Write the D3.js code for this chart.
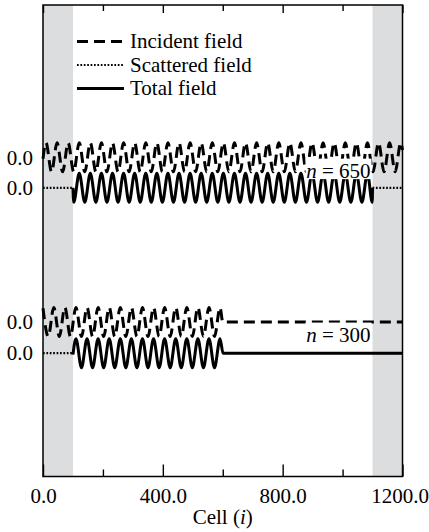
<!DOCTYPE html>
<html><head><meta charset="utf-8">
<script src="https://cdn.jsdelivr.net/npm/d3@7"></script>
<style>
body{margin:0;background:#fff}
svg{display:block}
</style>
</head><body>
<svg id="c" width="429" height="532" font-family="'Liberation Serif', 'DejaVu Serif', 'Times New Roman', serif"></svg>
<script>
// ---- data ----
const xTicksMajor = [0, 400, 800, 1200];
const xTicksMinor = [200, 600, 1000];
const sfRegions = [[0, 100], [1100, 1200]];   // scattered-field (shaded) regions, cells
const yLabelText = "0.0";
// baseline offsets of each trace (field units)
const offsetInc650 = 13.5, offsetTot650 = 11.4, offsetInc300 = 2.15, offsetTot300 = 0;

// extrema [cell, field]
const incident650 = [[0,-0.1],[10,1],[28.5,-1],[47,1],[65.5,-1],[84,1],[102.5,-1],[121,1],[139.5,-1],[158,1],[176.5,-1],[195,1],[213.5,-1],[232,1],[250.5,-1],[269,1],[287.5,-1],[306,1],[324.5,-1],[343,1],[361.5,-1],[380,1],[398.5,-1],[417,1],[435.5,-1],[454,1],[472.5,-1],[491,1],[509.5,-1],[528,1],[546.5,-1],[565,1],[583.5,-1],[602,1],[620.5,-1],[639,1],[657.5,-1],[676,1],[694.5,-1],[713,1],[731.5,-1],[750,1],[768.5,-1],[787,1],[805.5,-1],[824,1],[842.5,-1],[861,1],[879.5,-1],[898,1],[916.5,-1],[935,1],[953.5,-1],[972,1],[990.5,-1],[1009,1],[1027.5,-1],[1046,1],[1064.5,-1],[1083,1],[1101.5,-1],[1120,1],[1138.5,-1],[1157,1],[1175.5,-1],[1194,1],[1200,0.5]];
const scattered650 = [[[0,0],[100,0]], [[1100,0],[1200,0]]];
const total650 = [[100,0],[102.5,-1],[121,1],[139.5,-1],[158,1],[176.5,-1],[195,1],[213.5,-1],[232,1],[250.5,-1],[269,1],[287.5,-1],[306,1],[324.5,-1],[343,1],[361.5,-1],[380,1],[398.5,-1],[417,1],[435.5,-1],[454,1],[472.5,-1],[491,1],[509.5,-1],[528,1],[546.5,-1],[565,1],[583.5,-1],[602,1],[620.5,-1],[639,1],[657.5,-1],[676,1],[694.5,-1],[713,1],[731.5,-1],[750,1],[768.5,-1],[787,1],[805.5,-1],[824,1],[842.5,-1],[861,1],[879.5,-1],[898,1],[916.5,-1],[935,1],[953.5,-1],[972,1],[990.5,-1],[1009,1],[1027.5,-1],[1046,1],[1064.5,-1],[1083,1],[1099,-1],[1100,0]];

const incident300 = [[0,0.95],[17.5,-1],[36,1],[54.5,-1],[73,1],[91.5,-1],[110,1],[128.5,-1],[147,1],[165.5,-1],[184,1],[202.5,-1],[221,1],[239.5,-1],[258,1],[276.5,-1],[295,1],[313.5,-1],[332,1],[350.5,-1],[369,1],[387.5,-1],[406,1],[424.5,-1],[443,1],[461.5,-1],[480,1],[498.5,-1],[517,1],[535.5,-1],[554,1],[572.5,-1],[591,1],[600,0],[1200,0]];
const scattered300 = [[[0,0],[100,0]], [[1100,0],[1200,0]]];
const total300 = [[100,-0.1],[110,1],[128.5,-1],[147,1],[165.5,-1],[184,1],[202.5,-1],[221,1],[239.5,-1],[258,1],[276.5,-1],[295,1],[313.5,-1],[332,1],[350.5,-1],[369,1],[387.5,-1],[406,1],[424.5,-1],[443,1],[461.5,-1],[480,1],[498.5,-1],[517,1],[535.5,-1],[554,1],[572.5,-1],[591,1],[601,0],[1200,0]];

const legendItems = ["Incident field", "Scattered field", "Total field"];
const stepLabels = ["650", "300"];

// ---- drawing ----
const FONT = "'Liberation Serif', 'DejaVu Serif', 'Times New Roman', serif";
const svg = d3.select("#c");
const L = 43, R = 402.5, T = 5, B = 476.5;
const x = d3.scaleLinear().domain([0, 1200]).range([L, R]);
const y = d3.scaleLinear().domain([-8.5, 24]).range([B, T]);

const GRAY = "#dcdddf";
const SW = 3;
const DASH = "11,6";
const DOT = "1.7,1.7";

svg.append("rect").attr("width", 429).attr("height", 532).attr("fill", "#fff");

// shaded SF regions
svg.append("g").selectAll("rect").data(sfRegions).join("rect")
  .attr("x", d => x(d[0])).attr("y", T)
  .attr("width", d => x(d[1]) - x(d[0])).attr("height", B - T)
  .attr("fill", GRAY);

function lineFor(off) {
  return d3.line().x(d => x(d[0])).y(d => y(d[1] + off)).curve(d3.curveMonotoneX);
}
const g = svg.append("g").attr("fill", "none").attr("stroke", "#000");

function draw(data, off, style) {
  const p = g.append("path").attr("d", lineFor(off)(data))
    .attr("stroke-width", style === "dot" ? 2.2 : SW)
    .attr("stroke-linejoin", "round");
  if (style === "dash") p.attr("stroke-dasharray", DASH);
  if (style === "dot") p.attr("stroke-dasharray", DOT);
}
scattered650.forEach(s => draw(s, offsetTot650, "dot"));
scattered300.forEach(s => draw(s, offsetTot300, "dot"));
draw(incident650, offsetInc650, "dash");
draw(total650, offsetTot650, "solid");
draw(incident300, offsetInc300, "dash");
draw(total300, offsetTot300, "solid");

// n = labels with white background
const labelPos = [offsetTot650 + 0.7, offsetInc300 - 1.35];
stepLabels.forEach((s, i) => {
  const by = y(labelPos[i]);
  svg.append("rect").attr("x", x(1100) - 67).attr("y", by - 19)
    .attr("width", 66).attr("height", 20.5).attr("fill", "#fff");
  const t = svg.append("text").attr("x", x(1100) - 2).attr("y", by)
    .attr("text-anchor", "end").attr("font-size", 21).attr("font-family", FONT);
  t.append("tspan").attr("font-style", "italic").text("n");
  t.append("tspan").text(" = " + s);
});

// legend
const legY = [41.5, 65, 88.5];
const legStyles = ["dash", "dot", "solid"];
legendItems.forEach((name, i) => {
  const ln = svg.append("line").attr("x1", 77).attr("x2", 124)
    .attr("y1", legY[i]).attr("y2", legY[i]).attr("stroke", "#000")
    .attr("stroke-width", legStyles[i] === "dot" ? 2.2 : SW);
  if (legStyles[i] === "dash") ln.attr("stroke-dasharray", DASH);
  if (legStyles[i] === "dot") ln.attr("stroke-dasharray", DOT);
  svg.append("text").attr("x", 130).attr("y", legY[i] + 6.5)
    .attr("font-size", 21).attr("font-family", FONT).text(name);
});

// axes
function styleAxis(sel) {
  sel.attr("font-family", FONT).attr("font-size", 21);
  sel.select(".domain").remove();
  sel.selectAll(".tick line").attr("stroke", "#000").attr("stroke-width", 1.4);
  sel.selectAll("text").attr("fill", "#000");
}
const xAxisG = svg.append("g").attr("transform", `translate(0,${B})`)
  .call(d3.axisBottom(x).tickValues(xTicksMajor).tickSize(-12).tickPadding(12).tickFormat(d3.format(".1f")))
  .call(styleAxis);
// keep the last label inside the page
xAxisG.selectAll(".tick text").filter(d => d === xTicksMajor[xTicksMajor.length - 1])
  .attr("text-anchor", "end").attr("x", 26);
svg.append("g").attr("transform", `translate(0,${B})`)
  .call(d3.axisBottom(x).tickValues(xTicksMinor).tickSize(-7).tickFormat(""))
  .call(styleAxis);
svg.append("g").attr("transform", `translate(0,${T})`)
  .call(d3.axisTop(x).tickValues(xTicksMajor).tickSize(-8).tickFormat(""))
  .call(styleAxis);
svg.append("g").attr("transform", `translate(0,${T})`)
  .call(d3.axisTop(x).tickValues(xTicksMinor).tickSize(-6).tickFormat(""))
  .call(styleAxis);
svg.append("g").attr("transform", `translate(${L},0)`)
  .call(d3.axisLeft(y).tickValues([offsetInc650, offsetTot650, offsetInc300, offsetTot300])
    .tickSize(0).tickPadding(10).tickFormat(() => yLabelText))
  .call(styleAxis);

// frame
svg.append("rect").attr("x", L).attr("y", T).attr("width", R - L).attr("height", B - T)
  .attr("fill", "none").attr("stroke", "#000").attr("stroke-width", 1.5);

// x title
const xt = svg.append("text").attr("x", (L + R) / 2).attr("y", 524)
  .attr("text-anchor", "middle").attr("font-size", 21).attr("font-family", FONT);
xt.append("tspan").text("Cell (");
xt.append("tspan").attr("font-style", "italic").text("i");
xt.append("tspan").text(")");
</script>
</body></html>
